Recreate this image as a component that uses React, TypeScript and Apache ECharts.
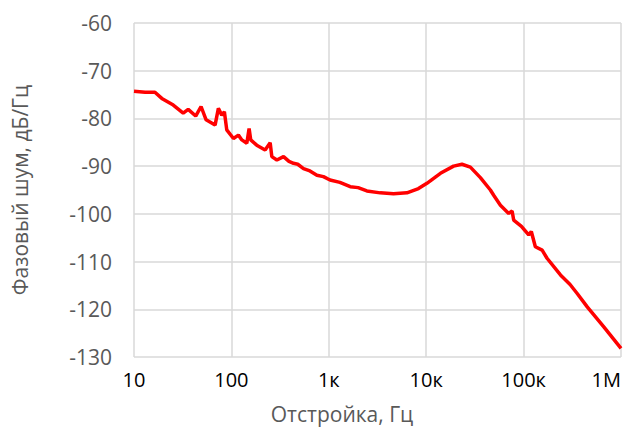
import React, { useEffect, useRef } from "react";
import * as echarts from "echarts";

const freqHz = [
  10, 13, 16.4, 19.3, 25.3, 32, 36, 43, 48.8, 55, 68, 73.5, 79.6, 84.7, 89.6,
  105, 118, 128, 144, 152, 158, 182, 222, 250, 260, 293, 343, 390, 434, 480,
  550, 640, 755, 880, 1030, 1300, 1660, 2000, 2460, 3370, 4620, 6340, 8330,
  10170, 14000, 19100, 23300, 28400, 36000, 45600, 49300, 57800, 70300, 76200,
  79100, 95000, 112800, 120000, 132000, 155000, 174000, 239000, 300000, 355000,
  450000, 666000, 1000000,
];
const phaseNoise = [
  -74.3, -74.5, -74.5, -75.8, -77.2, -78.9, -78.1, -79.5, -77.5, -80.3, -81.4,
  -77.9, -79.3, -78.6, -82.4, -84.2, -83.5, -84.5, -85.2, -82.1, -84.5, -85.6,
  -86.6, -85.1, -88.0, -88.7, -88.0, -89.0, -89.4, -89.6, -90.5, -91.0, -91.9,
  -92.2, -92.9, -93.4, -94.3, -94.5, -95.2, -95.6, -95.8, -95.6, -94.7, -93.6,
  -91.5, -90.0, -89.6, -90.2, -92.4, -95.0, -96.1, -98.2, -99.9, -99.4, -101.3,
  -102.6, -104.4, -103.7, -106.9, -107.6, -109.3, -112.8, -114.8, -116.7,
  -119.5, -123.7, -128.2,
];
const xTickValues = [10, 100, 1000, 10000, 100000, 1000000];
const xTickLabels = ["10", "100", "1к", "10к", "100к", "1М"];
const xTitle = "Отстройка, Гц";
const yTitle = "Фазовый шум, дБ/Гц";

const FONT = "'Open Sans', 'Noto Sans', sans-serif";

export default function App() {
  const ref = useRef<HTMLDivElement>(null);
  useEffect(() => {
    if (!ref.current) return;
    const chart = echarts.init(ref.current, undefined, { renderer: "svg" });
    const data = freqHz.map((f, i) => [f, phaseNoise[i]]);
    chart.setOption({
      animation: false,
      backgroundColor: "#ffffff",
      grid: { left: 134, right: 7, top: 23, bottom: 75 },
      xAxis: {
        type: "log",
        logBase: 10,
        min: 10,
        max: 1000000,
        axisLine: { show: false },
        axisTick: { show: false },
        splitLine: { show: true, lineStyle: { color: "#d9d9d9", width: 1.5 } },
        axisLabel: {
          color: "#000000",
          fontSize: 20,
          fontFamily: FONT,
          margin: 12,
          alignMaxLabel: "right",
          formatter: (v: number) => {
            const idx = xTickValues.findIndex((t) => Math.abs(Math.log10(t) - Math.log10(v)) < 1e-6);
            return idx >= 0 ? xTickLabels[idx] : "";
          },
        },
      },
      yAxis: {
        type: "value",
        min: -130,
        max: -60,
        interval: 10,
        axisLine: { show: false },
        axisTick: { show: false },
        splitLine: { show: true, lineStyle: { color: "#d9d9d9", width: 1.5 } },
        axisLabel: {
          color: "#595959",
          fontSize: 21,
          fontFamily: FONT,
          margin: 22,
        },
      },
      series: [
        {
          type: "line",
          data,
          showSymbol: false,
          lineStyle: { color: "#ff0000", width: 3.5 },
          itemStyle: { color: "#ff0000" },
        },
      ],
      graphic: [
        {
          type: "text",
          x: 342,
          y: 414,
          style: {
            text: xTitle,
            fill: "#595959",
            fontSize: 21,
            fontFamily: FONT,
            align: "center",
            verticalAlign: "middle",
          },
        },
        {
          type: "text",
          x: 20,
          y: 190,
          rotation: Math.PI / 2,
          style: {
            text: yTitle,
            fill: "#595959",
            fontSize: 21,
            fontFamily: FONT,
            align: "center",
            verticalAlign: "middle",
          },
        },
      ],
    });
    return () => chart.dispose();
  }, []);
  return <div ref={ref} style={{ width: 628, height: 432, position: "absolute", left: 0, top: 0 }} />;
}
